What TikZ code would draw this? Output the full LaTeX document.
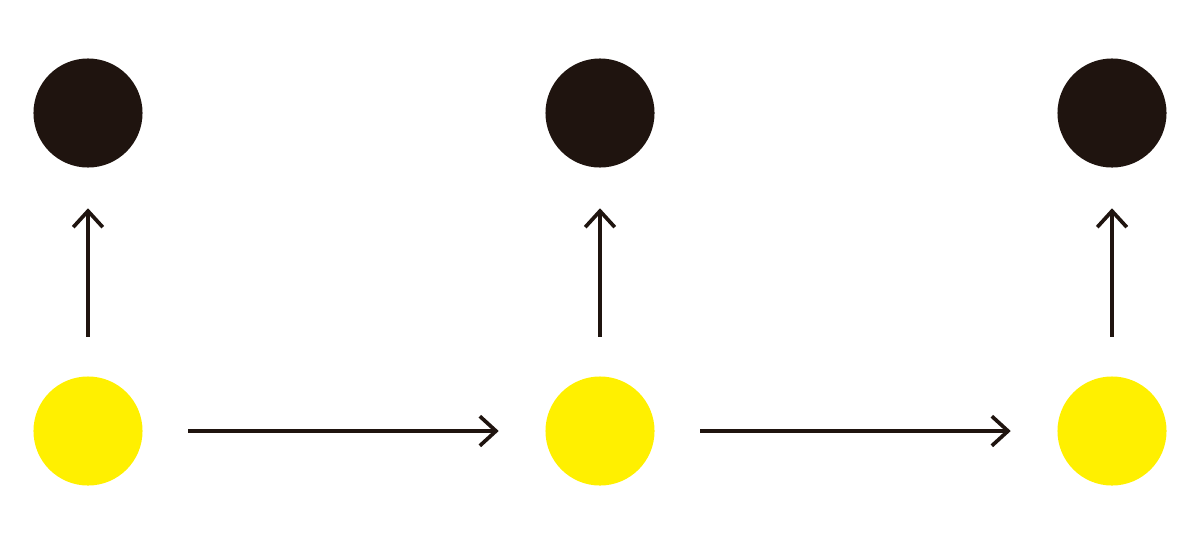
\documentclass[tikz,border=0pt]{standalone}
\usetikzlibrary{arrows.meta}
\definecolor{dark}{HTML}{1F140F}
\definecolor{yel}{HTML}{FFF000}
\begin{document}
\begin{tikzpicture}[x=0.01cm,y=-0.01cm,
  blackdot/.style={circle,fill=dark,minimum size=1.09cm,inner sep=0pt,draw=none},
  yellowdot/.style={circle,fill=yel,minimum size=1.09cm,inner sep=0pt,draw=none},
  link/.style={draw=dark,line width=1.05pt,-{Straight Barb[length=4.6pt,width=8.4pt,line width=1.05pt]}}]
\useasboundingbox (0,0) rectangle (1200,545);
\node[blackdot] (b1) at (88,113) {};
\node[blackdot] (b2) at (600,113) {};
\node[blackdot] (b3) at (1112,113) {};
\node[yellowdot] (y1) at (88,431) {};
\node[yellowdot] (y2) at (600,431) {};
\node[yellowdot] (y3) at (1112,431) {};
\draw[link] ([yshift=0.39cm]y1.north) -- ([yshift=-0.40cm]b1.south);
\draw[link] ([yshift=0.39cm]y2.north) -- ([yshift=-0.40cm]b2.south);
\draw[link] ([yshift=0.39cm]y3.north) -- ([yshift=-0.40cm]b3.south);
\draw[link] ([xshift=0.45cm]y1.east) -- ([xshift=-0.46cm]y2.west);
\draw[link] ([xshift=0.45cm]y2.east) -- ([xshift=-0.46cm]y3.west);
\end{tikzpicture}
\end{document}
